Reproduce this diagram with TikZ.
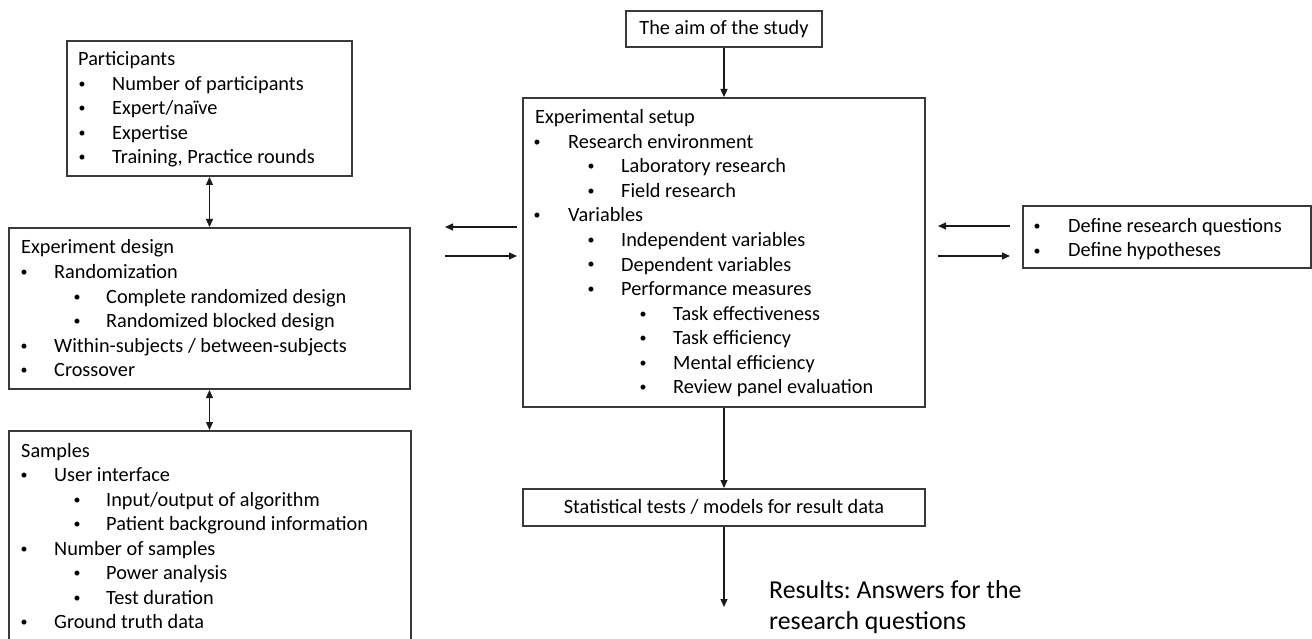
\documentclass[tikz,border=0pt]{standalone}
\usepackage{fontspec}
\setmainfont{Carlito}
\usetikzlibrary{arrows.meta}
\definecolor{boxgray}{HTML}{3A3A3A}
\definecolor{arrowcol}{HTML}{1A1A1A}
\frenchspacing
\tikzset{
  box/.style={draw=boxgray, line width=2pt, inner sep=0pt, fill=white},
  txt/.style={anchor=base west, inner sep=0pt, font=\fontsize{20.3}{24}\selectfont},
  ctxt/.style={inner sep=0pt, font=\fontsize{20.3}{24}\selectfont},
  bigtxt/.style={anchor=base west, inner sep=0pt, font=\fontsize{25.8}{30}\selectfont},
  bul/.style={anchor=base, inner sep=0pt, font=\fontsize{14}{16}\selectfont},
  conn/.style={draw=arrowcol, line width=1.2pt, -{Triangle[length=8pt,width=7pt]}},
  dconn/.style={draw=arrowcol, line width=1.2pt, {Triangle[length=8pt,width=7pt]}-{Triangle[length=8pt,width=7pt]}},
}
% name, bullet x, text x, center y, text
\newcommand{\bitem}[5]{%
  \node[bul] (#1b) at (#2,#4+5) {\textbullet};
  \node[txt] (#1) at (#3,#4+7) {#5};
}
\newcommand{\hitem}[4]{%
  \node[txt] (#1) at (#2,#3+7) {#4};
}
\begin{document}
\begin{tikzpicture}[x=1pt,y=-1pt]
\useasboundingbox (0,0) rectangle (1312,639);

% ---------- boxes ----------
\node[box, minimum width=285pt, minimum height=135pt] (part) at (209.5,108.5) {};
\node[box, minimum width=401pt, minimum height=161pt] (design) at (209.5,308.5) {};
\node[box, minimum width=402pt, minimum height=220pt] (samples) at (210,541) {};
\node[box, minimum width=196pt, minimum height=36pt] (aim) at (724,29) {};
\node[box, minimum width=402pt, minimum height=309pt] (setup) at (724,252.5) {};
\node[box, minimum width=402pt, minimum height=37pt] (stat) at (724,507.5) {};
\node[box, minimum width=288pt, minimum height=62pt] (define) at (1167,237) {};

% ---------- Participants ----------
\hitem{pH}{78}{59}{Participants}
\bitem{p1}{82}{112}{83.5}{Number of participants}
\bitem{p2}{82}{112}{108}{Expert/naïve}
\bitem{p3}{82}{112}{132.5}{Expertise}
\bitem{p4}{82}{112}{157}{Training, Practice rounds}

% ---------- Experiment design ----------
\hitem{dH}{21}{247}{Experiment design}
\bitem{d1}{24}{54}{271.5}{Randomization}
\bitem{d2}{77}{106}{296}{Complete randomized design}
\bitem{d3}{77}{106}{320.5}{Randomized blocked design}
\bitem{d4}{24}{54}{345}{Within-subjects / between-subjects}
\bitem{d5}{24}{54}{369.5}{Crossover}

% ---------- Samples ----------
\hitem{sH}{21}{450}{Samples}
\bitem{s1}{24}{54}{474.5}{User interface}
\bitem{s2}{77}{106}{499}{Input/output of algorithm}
\bitem{s3}{77}{106}{523.5}{Patient background information}
\bitem{s4}{24}{54}{548}{Number of samples}
\bitem{s5}{77}{106}{572.5}{Power analysis}
\bitem{s6}{77}{106}{597}{Test duration}
\bitem{s7}{24}{54}{621.5}{Ground truth data}

% ---------- Aim ----------
\node[ctxt] (aimT) at (724,29) {The aim of the study};

% ---------- Experimental setup ----------
\hitem{eH}{535}{117}{Experimental setup}
\bitem{e1}{537}{568}{141.5}{Research environment}
\bitem{e2}{591}{621}{166}{Laboratory research}
\bitem{e3}{591}{621}{190.5}{Field research}
\bitem{e4}{537}{568}{215}{Variables}
\bitem{e5}{591}{621}{239.5}{Independent variables}
\bitem{e6}{591}{621}{264}{Dependent variables}
\bitem{e7}{591}{621}{288.5}{Performance measures}
\bitem{e8}{643}{673}{313}{Task effectiveness}
\bitem{e9}{643}{673}{337.5}{Task efficiency}
\bitem{e10}{643}{673}{362}{Mental efficiency}
\bitem{e11}{643}{673}{386.5}{Review panel evaluation}

% ---------- Define ----------
\bitem{q1}{1037}{1068}{226}{Define research questions}
\bitem{q2}{1037}{1068}{250}{Define hypotheses}

% ---------- Statistical ----------
\node[ctxt] (statT) at (724,507) {Statistical tests / models for result data};

% ---------- Results ----------
\node[bigtxt] (r1) at (769,598) {Results: Answers for the};
\node[bigtxt] (r2) at (769,629) {research questions};

% ---------- coordinates ----------
\coordinate (lA) at (445,227);
\coordinate (lB) at (517,227);
\coordinate (lC) at (445,256);
\coordinate (lD) at (517,256);
\coordinate (rA) at (938,226);
\coordinate (rB) at (1010,226);
\coordinate (rC) at (938,256);
\coordinate (rD) at (1010,256);
\coordinate (resEnd) at (724,607);

% ---------- connectors ----------
\draw[conn] (aim.south) -- (setup.north);
\draw[dconn] (part.south) -- (part.south |- design.north);
\draw[dconn] (part.south |- design.south) -- (part.south |- samples.north);
\draw[conn] (lB) -- (lA);
\draw[conn] (lC) -- (lD);
\draw[conn] (rB) -- (rA);
\draw[conn] (rC) -- (rD);
\draw[conn] (setup.south) -- (stat.north);
\draw[conn] (stat.south) -- (resEnd);
\end{tikzpicture}
\end{document}
